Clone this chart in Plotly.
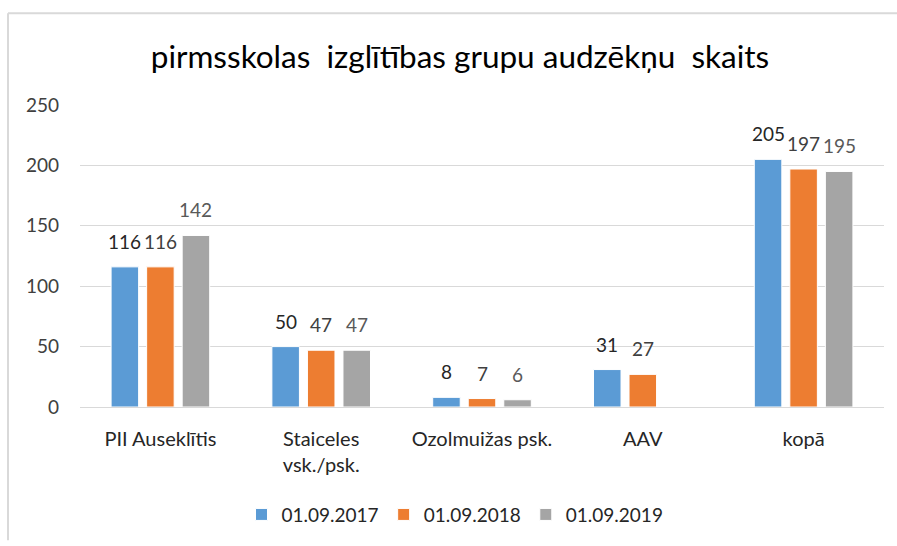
import plotly.graph_objects as go

categories = ["PII Auseklītis", "Staiceles<br>vsk./psk.", "Ozolmuižas psk.", "AAV", "kopā"]
series_names = ["01.09.2017", "01.09.2018", "01.09.2019"]
values_2017 = [116, 50, 8, 31, 205]
values_2018 = [116, 47, 7, 27, 197]
values_2019 = [142, 47, 6, None, 195]
colors = ["#5b9bd5", "#ed7d31", "#a5a5a5"]
label_colors = ["#262626", "#404040", "#595959"]
y_ticks = [0, 50, 100, 150, 200, 250]

FONT = "Lato"
W, H = 897, 546
ML, MR, MT, MB = 80, 13, 105, 135
BARGAP = 0.337
GROUPGAP = 0.225

all_series = [values_2017, values_2018, values_2019]

fig = go.Figure()
for name, vals, c in zip(series_names, all_series, colors):
    fig.add_trace(go.Bar(
        x=categories, y=vals, name=name,
        marker=dict(color=c, line=dict(color="white", width=1)),
        cliponaxis=False,
    ))

# data labels placed at each bar's (category, value) in data coordinates
n = len(all_series)
slot = (1 - BARGAP) / n
annotations = []
for k, (vals, lc) in enumerate(zip(all_series, label_colors)):
    for i, v in enumerate(vals):
        if v is None:
            continue
        annotations.append(dict(
            x=i + (k - (n - 1) / 2) * slot, y=v, xref="x", yref="y",
            text=str(v), showarrow=False, yanchor="bottom", xanchor="center", yshift=12,
            font=dict(family=FONT, size=19, color=lc),
        ))

pw = W - ML - MR
ph = H - MT - MB
def px_x(p):
    return (p - ML) / pw
def px_y(p):
    return (H - MB - p) / ph

fig.update_layout(
    width=W, height=H,
    margin=dict(l=ML, r=MR, t=MT, b=MB),
    paper_bgcolor="white", plot_bgcolor="white",
    title=dict(text="pirmsskolas  izglītības grupu audzēkņu  skaits",
               x=460 / W, xanchor="center", xref="container", y=1 - 57 / H, yanchor="middle",
               font=dict(family=FONT, size=31.5, color="#000000")),
    barmode="group", bargap=BARGAP, bargroupgap=GROUPGAP,
    font=dict(family=FONT, size=19, color="#404040"),
    showlegend=True,
    legend=dict(orientation="h", x=0.5 - 27 / pw, xanchor="center", y=px_y(520), yanchor="middle",
                font=dict(family=FONT, size=19, color="#262626"),
                itemwidth=30, tracegroupgap=0, traceorder="normal"),
    xaxis=dict(showgrid=False, showline=False, ticks="", ticklabelstandoff=18,
               tickfont=dict(family=FONT, size=20, color="#262626")),
    yaxis=dict(range=[0, 250], tickvals=y_ticks, showgrid=True, gridcolor="#d9d9d9", gridwidth=1,
               zeroline=True, zerolinecolor="#d9d9d9", zerolinewidth=1, showline=False, ticks="",
               tickfont=dict(family=FONT, size=19, color="#404040"), ticklabelstandoff=20),
    annotations=annotations,
    shapes=[
        dict(type="line", xref="paper", yref="paper", x0=px_x(8), x1=px_x(897), y0=px_y(12), y1=px_y(12),
             line=dict(color="#d9d9d9", width=2)),
        dict(type="line", xref="paper", yref="paper", x0=px_x(8), x1=px_x(8), y0=px_y(12), y1=px_y(546),
             line=dict(color="#d9d9d9", width=2)),
    ],
)

fig.write_html("out.html", config={"displayModeBar": False},
               post_script="document.body.style.margin='0';document.body.style.padding='0';")
